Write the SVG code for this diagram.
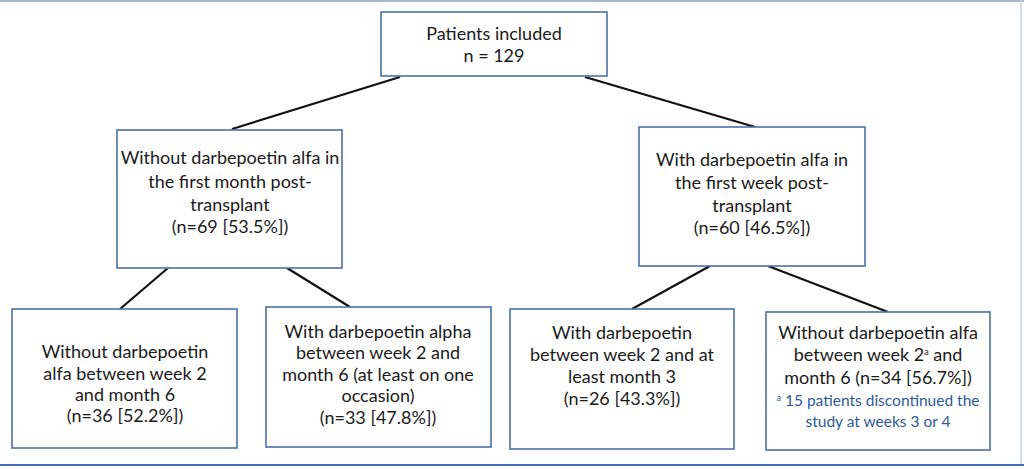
<svg xmlns="http://www.w3.org/2000/svg" width="1024" height="469" viewBox="0 0 1024 469">
<style>
.box{fill:#fff;stroke:#4a6fa8;stroke-width:1.6}
.t{font-family:Lato,"Liberation Sans",sans-serif;font-size:18px;fill:#1a1a1a;text-anchor:middle}
.fn{font-family:Lato,"Liberation Sans",sans-serif;font-size:15.5px;fill:#2d5a98;text-anchor:middle}
.sup{font-size:9px}
.ln{stroke:#111;stroke-width:2.2;fill:none}
</style>
<rect x="0" y="0" width="1024" height="469" fill="#fff"/>
<line x1="0" y1="1" x2="1024" y2="1" stroke="#a9b8c8" stroke-width="2"/>
<line x1="1021" y1="0" x2="1021" y2="466" stroke="#c9d6e6" stroke-width="1.5"/>
<line x1="0" y1="465" x2="1024" y2="465" stroke="#4a6fc0" stroke-width="2"/>
<g id="connectors">
<line class="ln" x1="400" y1="77" x2="232" y2="129"/>
<line class="ln" x1="585" y1="77" x2="755" y2="127"/>
<line class="ln" x1="168" y1="268" x2="120" y2="309"/>
<line class="ln" x1="287" y1="268" x2="350" y2="307"/>
<line class="ln" x1="710" y1="266" x2="632" y2="309"/>
<line class="ln" x1="768" y1="266" x2="888" y2="312"/>
</g>
<g id="n0">
<rect class="box" x="381" y="12" width="226" height="64"/>
<text class="t" x="494" y="40">Patients included</text>
<text class="t" x="494" y="62">n = 129</text>
</g>
<g id="n1">
<rect class="box" x="117" y="130" width="225" height="138"/>
<text class="t" x="230" y="164">Without darbepoetin alfa in</text>
<text class="t" x="230" y="188">the first month post-</text>
<text class="t" x="230" y="211">transplant</text>
<text class="t" x="230" y="233">(n=69 [53.5%])</text>
</g>
<g id="n2">
<rect class="box" x="639" y="127" width="226" height="139"/>
<text class="t" x="752" y="166">With darbepoetin alfa in</text>
<text class="t" x="752" y="189">the first week post-</text>
<text class="t" x="752" y="212">transplant</text>
<text class="t" x="752" y="234">(n=60 [46.5%])</text>
</g>
<g id="n3">
<rect class="box" x="12" y="309" width="225" height="139"/>
<text class="t" x="125" y="358">Without darbepoetin</text>
<text class="t" x="125" y="380">alfa between week 2</text>
<text class="t" x="125" y="401">and month 6</text>
<text class="t" x="125" y="422">(n=36 [52.2%])</text>
</g>
<g id="n4">
<rect class="box" x="266" y="307" width="225" height="140"/>
<text class="t" x="378" y="338">With darbepoetin alpha</text>
<text class="t" x="378" y="359">between week 2 and</text>
<text class="t" x="378" y="381">month 6 (at least on one</text>
<text class="t" x="378" y="402">occasion)</text>
<text class="t" x="378" y="424">(n=33 [47.8%])</text>
</g>
<g id="n5">
<rect class="box" x="510" y="309" width="224" height="140"/>
<text class="t" x="622" y="339">With darbepoetin</text>
<text class="t" x="622" y="361">between week 2 and at</text>
<text class="t" x="622" y="383">least month 3</text>
<text class="t" x="622" y="405">(n=26 [43.3%])</text>
</g>
<g id="n6">
<rect class="box" x="766" y="312" width="224" height="138"/>
<text class="t" x="878" y="339">Without darbepoetin alfa</text>
<text class="t" x="878" y="361">between week 2<tspan class="sup" dy="-6">a</tspan><tspan dy="6"> and</tspan></text>
<text class="t" x="878" y="384">month 6 (n=34 [56.7%])</text>
<text class="fn" x="878" y="406"><tspan class="sup" dy="-5">a</tspan><tspan dy="5"> 15 patients discontinued the</tspan></text>
<text class="fn" x="878" y="427">study at weeks 3 or 4</text>
</g>
</svg>
